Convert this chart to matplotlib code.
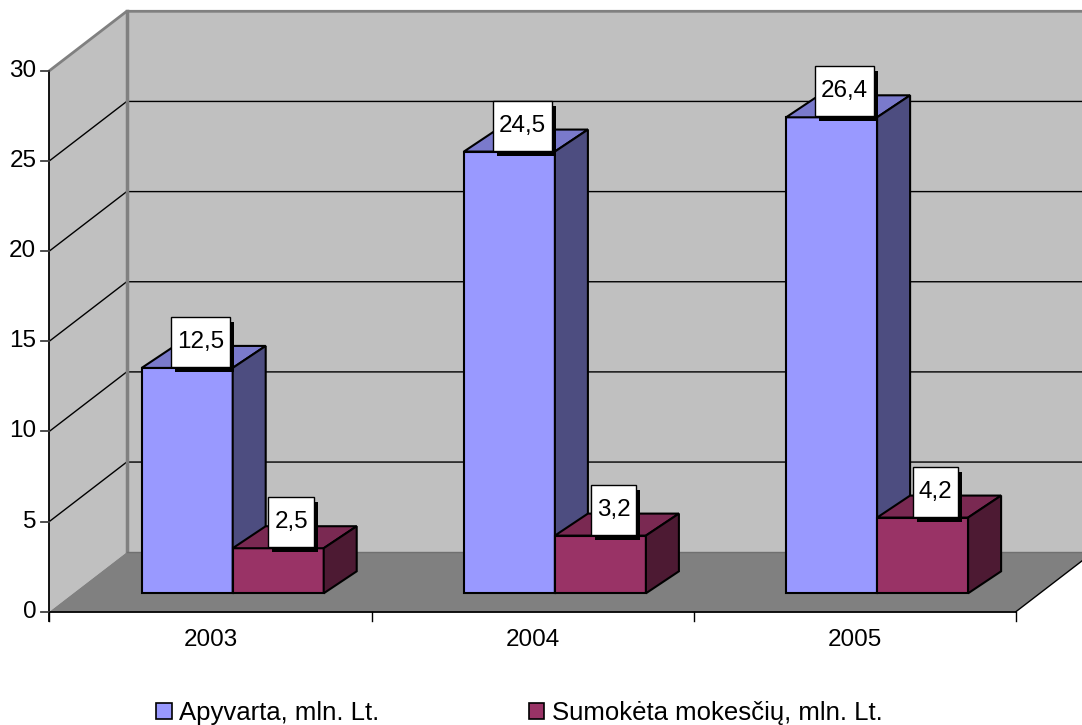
import matplotlib
matplotlib.use('Agg')
import matplotlib.pyplot as plt
from matplotlib.patches import Polygon, Rectangle, Patch

plt.rcParams['font.family'] = ['Liberation Sans', 'DejaVu Sans']

# data
years = ['2003', '2004', '2005']
turnover = [12.5, 24.5, 26.4]      # Apyvarta, mln. Lt.
taxes = [2.5, 3.2, 4.2]            # Sumokėta mokesčių, mln. Lt.
series_names = ['Apyvarta, mln. Lt.', 'Sumokėta mokesčių, mln. Lt.']
y_ticks = [0, 5, 10, 15, 20, 25, 30]

# colours (front, top, side)
blue = ('#9999FF', '#7A7ACC', '#4D4D80')
red = ('#993366', '#7A2952', '#4D1A33')
wall_c = '#C0C0C0'
floor_c = '#808080'
fs = 17.5

# figure / scale setup (pixels)
W, H = 1082, 725
ox, oy = 49.3, 611.7          # pixel position of (0, 0) on the front plane
px_x = 322.2                  # pixels per category
px_y = 18.03                  # pixels per value unit

fig = plt.figure(figsize=(W / 100, H / 100), dpi=100)
ax = fig.add_axes([0, 0, 1, 1])
ax.set_xlim(-ox / px_x, (W - ox) / px_x)
ax.set_ylim((oy - H) / px_y, oy / px_y)
ax.axis('off')


def off(dx, dy):
    # pixel offset -> data offset
    return dx / px_x, dy / px_y


wx, wy = off(77.4, 59.5)       # depth of the walls
fx, fy = off(22.3, 18.4)       # bar front shift from the front plane
bx, by = off(33, 22)           # bar depth
n = len(years)
ymax = y_ticks[-1]

# walls and floor
ax.add_patch(Polygon([(0, 0), (wx, wy), (wx, ymax + wy), (0, ymax)],
                     closed=True, fc=wall_c, ec='none', zorder=1))
ax.add_patch(Polygon([(wx, wy), (n + wx, wy), (n + wx, ymax + wy), (wx, ymax + wy)],
                     closed=True, fc=wall_c, ec='none', zorder=1))
for t in y_ticks[1:-1]:
    ax.plot([0, wx, n + wx], [t, t + wy, t + wy], color='black', lw=1, zorder=2)
ax.plot([0, wx, n + wx], [ymax, ymax + wy, ymax + wy], color='#808080', lw=2, zorder=2)
ax.plot([wx, wx], [wy, ymax + wy], color='#808080', lw=2.5, zorder=2)
ax.add_patch(Polygon([(0, 0), (n, 0), (n + wx, wy), (wx, wy)],
                     closed=True, fc=floor_c, ec='none', zorder=3))
ax.plot([wx, n + wx], [wy, wy], color='#707070', lw=1, zorder=3)
ax.plot([n, n + wx], [0, wy], color='black', lw=1, zorder=3)

# axes lines and ticks
tick_y = 9 / px_y
tick_x = 8 / px_x
ax.plot([0, n], [0, 0], color='black', lw=1.3, zorder=4)
ax.plot([0, 0], [-tick_y, ymax], color='black', lw=1.3, zorder=4)
for t in y_ticks:
    ax.plot([-tick_x, 0], [t, t], color='#404040', lw=1.3, zorder=4)
    ax.text(-13 / px_x, t, str(t), ha='right', va='center', fontsize=fs, zorder=4)
for i in range(n + 1):
    ax.plot([i, i], [0, -tick_y], color='black', lw=1, zorder=4)
for i, yr in enumerate(years):
    ax.text(i + 0.5, -28 / px_y, yr, ha='center', va='center', fontsize=fs, zorder=4)


def bar3d(x0, width, value, cols):
    x0 += fx
    x1 = x0 + width
    b = fy
    top = b + value
    kw = dict(closed=True, ec='black', lw=1.5, joinstyle='miter', zorder=5)
    ax.add_patch(Polygon([(x0, b), (x1, b), (x1, top), (x0, top)], fc=cols[0], **kw))
    ax.add_patch(Polygon([(x0, top), (x1, top), (x1 + bx, top + by), (x0 + bx, top + by)],
                         fc=cols[1], **kw))
    ax.add_patch(Polygon([(x1, b), (x1 + bx, b + by), (x1 + bx, top + by), (x1, top)],
                         fc=cols[2], **kw))
    return (x0 + x1) / 2, top


bw = 91 / px_x
labels = []
for i in range(n):
    left = i + 0.5 - bw
    labels.append((bar3d(left, bw, turnover[i], blue), turnover[i]))
    labels.append((bar3d(left + bw, bw, taxes[i], red), taxes[i]))

# value labels: white box with black shadow
renderer = fig.canvas.get_renderer()
for (cx, top), v in labels:
    s = ('%.1f' % v).replace('.', ',')
    bxc = cx + 13 / px_x
    bh = 50 / px_y
    yb = top + 1 / px_y
    txt = ax.text(bxc, yb + bh / 2, s, ha='center', va='center', fontsize=fs, zorder=9)
    tw = txt.get_window_extent(renderer).width
    bwid = (tw + 12) / px_x
    sx, sy = off(4, -5)
    ax.add_patch(Rectangle((bxc - bwid / 2 + sx, yb + sy), bwid, bh,
                           fc='black', ec='none', zorder=7))
    ax.add_patch(Rectangle((bxc - bwid / 2, yb), bwid, bh,
                           fc='white', ec='black', lw=1, zorder=8))

# legend
handles = [Patch(fc=blue[0], ec='black', lw=1.2), Patch(fc=red[0], ec='black', lw=1.2)]
fig.legend(handles, series_names, ncol=2, loc='center left',
           bbox_to_anchor=(156 / W, 1 - 713 / H), frameon=False, fontsize=18.5,
           handlelength=0.61, handleheight=0.61, handletextpad=0.3,
           columnspacing=5.8, borderpad=0, borderaxespad=0)

fig.savefig('out.png', dpi=100)
